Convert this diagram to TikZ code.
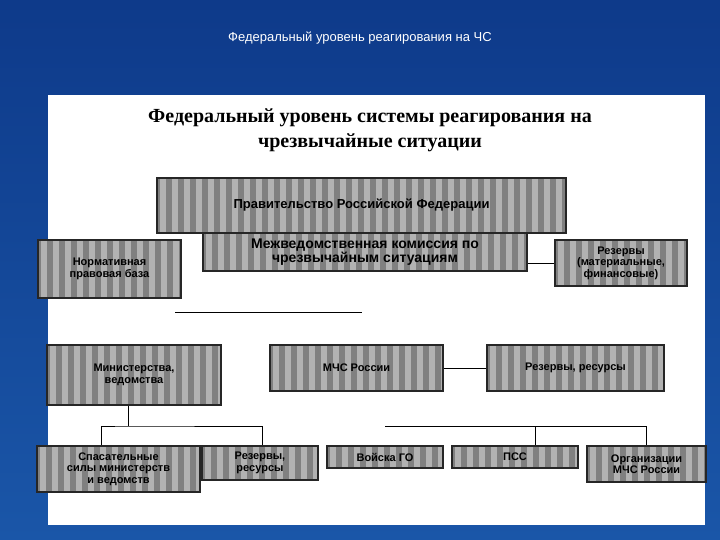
\documentclass[tikz,border=0pt]{standalone}
\usepackage{fontspec}
\setmainfont{Liberation Sans}
\newfontfamily\serifb{Liberation Serif}
\definecolor{bgtop}{HTML}{0E3A8A}
\definecolor{bgbot}{HTML}{1A56A8}
\begin{document}
\begin{tikzpicture}[x=1pt,y=-1pt,
  bx/.style={draw=black!85,line width=1.8pt,fill=black!50,
    path picture={\foreach \i in {0,12,...,420}{\fill[white,opacity=.4] ([xshift=\i pt+3pt]path picture bounding box.south west) rectangle ++(6pt,200pt);}},
    font=\bfseries\fontsize{11}{11.5}\selectfont,text=black,align=center,inner sep=1pt},
  ln/.style={line width=0.8pt,black}]
\useasboundingbox (0,0) rectangle (720,540);
\shade[top color=bgtop,bottom color=bgbot] (0,0) rectangle (720,540);
\fill[white] (48,95) rectangle (705,525);
\node[white,font=\fontsize{13}{13}\selectfont] (t) at (360,38) {Федеральный уровень реагирования на ЧС};
\node[font=\serifb\bfseries\fontsize{20}{25}\selectfont,align=center] (h) at (370,130) {Федеральный уровень системы реагирования на\\чрезвычайные ситуации};
\def\B#1#2#3#4#5#6{\node[bx,minimum width=#4-#2,minimum height=#5-#3] (#1) at ({(#2+#4)/2},{(#3+#5)/2}) {#6};}
\B{com}{203}{233}{527}{271}{\fontsize{14}{14}\selectfont Межведомственная комиссия по\\\fontsize{14}{14}\selectfont чрезвычайным ситуациям}
\B{gov}{157}{178}{566}{233}{\fontsize{13}{13}\selectfont Правительство Российской Федерации}
\B{norm}{38}{240}{181}{298}{Нормативная\\правовая база}
\B{rt}{555}{240}{687}{286}{Резервы\\(материальные,\\финансовые)}
\B{min}{47}{345}{221}{405}{Министерства,\\ведомства}
\B{mch}{270}{345}{443}{391}{МЧС России}
\B{rr}{487}{345}{664}{391}{Резервы, ресурсы}
\B{sp}{37}{446}{200}{492}{Спасательные\\силы министерств\\и ведомств}
\B{r2}{202}{446}{318}{480}{Резервы,\\ресурсы}
\B{vg}{327}{446}{443}{468}{Войска ГО}
\B{ps}{452}{446}{578}{468}{ПСС}
\B{org}{587}{446}{706}{482}{Организации\\МЧС России}
\coordinate (fa) at (175,312); \coordinate (fb) at (362,312);
\draw[ln] (fa)--(fb);
\draw[ln] (com.east|-rt.west)--(rt.west);
\draw[ln] (mch)--(rr);
\coordinate (m1) at (128,426);
\draw[ln] (min.south-|m1)--(m1);
\draw[ln] (sp.north-|101,0)|-(m1) -| (r2.north-|262,0);
\coordinate (q) at (385,426);
\draw[ln] (q)-|(org.north);
\draw[ln] (ps.north-|535,0)--(535,426);
\end{tikzpicture}
\end{document}
